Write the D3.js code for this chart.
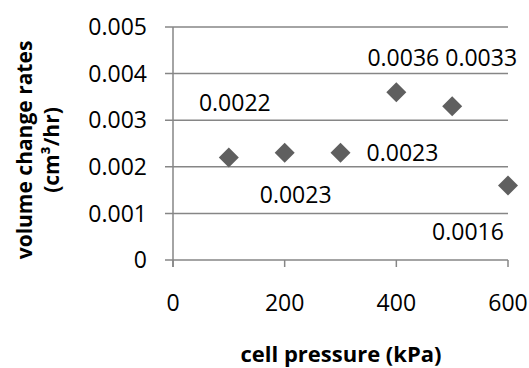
<!DOCTYPE html>
<html><head><meta charset="utf-8">
<script src="https://cdn.jsdelivr.net/npm/d3@7"></script>
<style>body{margin:0;background:#fff}svg{display:block}</style>
</head><body>
<script>
const pressures = [100, 200, 300, 400, 500, 600];
const rates = [0.0022, 0.0023, 0.0023, 0.0036, 0.0033, 0.0016];
const labelTexts = ["0.0022", "0.0023", "0.0023", "0.0036", "0.0033", "0.0016"];
const xTicks = [0, 200, 400, 600];
const yTicks = [0, 0.001, 0.002, 0.003, 0.004, 0.005];
// label offsets (px) relative to marker, as placed in the reference
const labelDx = [6, 11, 62, 7, 29, -40];
const labelDy = [-55, 42, 0, -35, -49, 46];

const W = 529, H = 368;
const svg = d3.select("body").append("svg").attr("width", W).attr("height", H);
const x = d3.scaleLinear().domain([0, 600]).range([173, 508]);
const y = d3.scaleLinear().domain([0, 0.005]).range([260, 27]);
const font = "'Open Sans', sans-serif";
const grid = "#868686";

// gridlines
svg.append("g").selectAll("line").data(yTicks).join("line")
  .attr("x1", 165).attr("x2", x(600))
  .attr("y1", d => y(d)).attr("y2", d => y(d))
  .attr("stroke", grid).attr("stroke-width", 1.5);

// y axis line
svg.append("line").attr("x1", x(0)).attr("x2", x(0)).attr("y1", y(0.005)).attr("y2", y(0) + 7)
  .attr("stroke", grid).attr("stroke-width", 1.5);
// x ticks
svg.append("g").selectAll("line").data(xTicks).join("line")
  .attr("x1", d => x(d)).attr("x2", d => x(d)).attr("y1", y(0)).attr("y2", y(0) + 7)
  .attr("stroke", grid).attr("stroke-width", 1.5);

// y tick labels
svg.append("g").selectAll("text").data(yTicks).join("text")
  .attr("x", 147).attr("y", d => y(d)).attr("dy", "0.36em")
  .attr("text-anchor", "end").attr("font-family", font).attr("font-size", 23)
  .attr("fill", "#000").text(d => d === 0 ? "0" : d3.format(".3f")(d));

// x tick labels
svg.append("g").selectAll("text").data(xTicks).join("text")
  .attr("x", d => x(d)).attr("y", 311)
  .attr("text-anchor", "middle").attr("font-family", font).attr("font-size", 23)
  .attr("fill", "#000").text(d => d);

// markers
const sym = d3.symbol().type(d3.symbolSquare).size(200);
svg.append("g").selectAll("path").data(pressures).join("path")
  .attr("d", sym())
  .attr("transform", (d, i) => `translate(${x(d)},${y(rates[i])}) rotate(45)`)
  .attr("fill", "#5f5f5f");

// data labels
svg.append("g").selectAll("text").data(pressures).join("text")
  .attr("x", (d, i) => x(d) + labelDx[i])
  .attr("y", (d, i) => y(rates[i]) + labelDy[i])
  .attr("dy", "0.36em")
  .attr("text-anchor", "middle").attr("font-family", font).attr("font-size", 23)
  .attr("fill", "#000").text((d, i) => labelTexts[i]);

// axis titles
svg.append("text").attr("x", 341).attr("y", 362).attr("text-anchor", "middle")
  .attr("font-family", font).attr("font-weight", "bold").attr("font-size", 22)
  .text("cell pressure (kPa)");

const yt = svg.append("text").attr("transform", "translate(0,150) rotate(-90)")
  .attr("text-anchor", "middle").attr("font-family", font).attr("font-weight", "bold").attr("font-size", 21);
yt.append("tspan").attr("x", 0).attr("y", 32).text("volume change rates");
yt.append("tspan").attr("x", 0).attr("y", 59).text("(cm³/hr)");
</script>
</body></html>
